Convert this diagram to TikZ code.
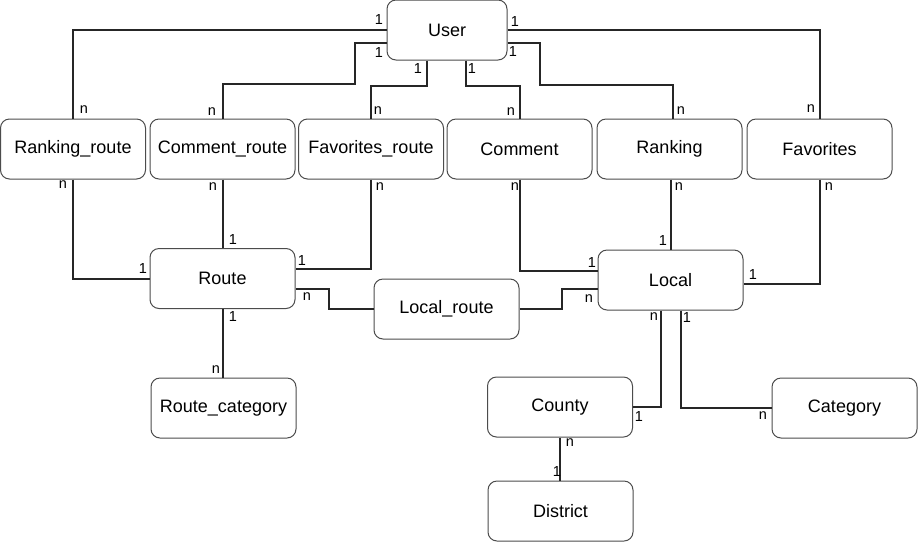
\documentclass[tikz,border=0pt]{standalone}
\usepackage{fontspec}
\setmainfont{Liberation Sans}
\usepackage{tikz}

\begin{document}
\begin{tikzpicture}[x=1pt,y=-1pt,
	entity/.style={shape=rectangle,rounded corners=9pt,draw=black!70,line width=1pt,fill=white,
		minimum width=145pt,minimum height=60pt,inner sep=0pt,font=\fontsize{18}{21}\selectfont},
	card/.style={inner sep=0pt,font=\fontsize{14.5}{16}\selectfont},
	rel/.style={line width=2pt,black!85}]
	\useasboundingbox (0,0) rectangle (918,542);

	\node[entity,minimum width=120pt] (user) at (447,30) {User};
	\node[entity] (rankroute) at (73,149) {Ranking\_route};
	\node[entity] (comroute) at (222.5,149) {Comment\_route};
	\node[entity] (favroute) at (371,149) {Favorites\_route};
	\node[entity] (comment) at (519.5,149) {Comment};
	\node[entity] (ranking) at (669.5,149) {Ranking};
	\node[entity] (favorites) at (819.5,149) {Favorites};
	\node[entity] (route) at (222.5,278.5) {Route};
	\node[entity] (localroute) at (446.5,309) {Local\_route};
	\node[entity] (local) at (670.5,280) {Local};
	\node[entity] (routecat) at (223.5,408) {Route\_category};
	\node[entity] (county) at (560,407) {County};
	\node[entity] (district) at (560.5,511) {District};
	\node[entity] (category) at (844.5,408) {Category};

	\draw[rel] (user.west) -| (rankroute.north);
	\draw[rel] ([yshift=-13pt]user.west) -| (355,84) -| (comroute.north);
	\draw[rel] ([xshift=-20pt]user.south) -- ++(0,25) -| (favroute.north);
	\draw[rel] ([xshift=19pt]user.south) -- ++(0,25) -| (comment.north);
	\draw[rel] ([yshift=-13pt]user.east) -| (540,85) -| ([xshift=3pt]ranking.north);
	\draw[rel] (user.east) -| (favorites.north);

	\draw[rel] (rankroute.south) |- (route.west);
	\draw[rel] (comroute.south) -- (route.north);
	\draw[rel] (favroute.south) |- ([yshift=10pt]route.east);
	\draw[rel] ([yshift=-10pt]route.east) -| (329,309) -- (localroute.west);
	\draw[rel] (comment.south) |- ([yshift=9pt]local.west);
	\draw[rel] (localroute.east) -| (562,289) -- ([yshift=-9pt]local.west);
	\draw[rel] ([xshift=1pt]ranking.south) -- ([xshift=1pt]ranking.south |- local.north);
	\draw[rel] (favorites.south) |- ([yshift=-4pt]local.east);
	\draw[rel] ([xshift=-10pt]local.south) |- (county.east);
	\draw[rel] ([xshift=10pt]local.south) |- (category.west);
	\draw[rel] (route.south) -- (route.south |- routecat.north);
	\draw[rel] (county.south) -- (county.south |- district.north);

	\node[card] (c1a) at (379,20) {1};
	\node[card] (c1b) at (84,110) {n};
	\node[card] (c2a) at (379,53) {1};
	\node[card] (c2b) at (212,112) {n};
	\node[card] (c3a) at (418,69) {1};
	\node[card] (c3b) at (378,111) {n};
	\node[card] (c4a) at (472,69) {1};
	\node[card] (c4b) at (511,112) {n};
	\node[card] (c5a) at (513,52) {1};
	\node[card] (c5b) at (681,111) {n};
	\node[card] (c6a) at (515,22) {1};
	\node[card] (c6b) at (811,109) {n};
	\node[card] (c7a) at (63,185) {n};
	\node[card] (c7b) at (143,269) {1};
	\node[card] (c8a) at (213,187) {n};
	\node[card] (c8b) at (233,240) {1};
	\node[card] (c9a) at (380,187) {n};
	\node[card] (c9b) at (302,261) {1};
	\node[card] (c10) at (307,297) {n};
	\node[card] (c11a) at (515,187) {n};
	\node[card] (c11b) at (592,263) {1};
	\node[card] (c12) at (589,299) {n};
	\node[card] (c13a) at (679,187) {n};
	\node[card] (c13b) at (663,241) {1};
	\node[card] (c14a) at (829,187) {n};
	\node[card] (c14b) at (753,275) {1};
	\node[card] (c15a) at (654,317) {n};
	\node[card] (c15b) at (639,417) {1};
	\node[card] (c16a) at (687,318) {1};
	\node[card] (c16b) at (763,416) {n};
	\node[card] (c17a) at (233,317) {1};
	\node[card] (c17b) at (216,370) {n};
	\node[card] (c18a) at (570,443) {n};
	\node[card] (c18b) at (557,472) {1};
\end{tikzpicture}
\end{document}
